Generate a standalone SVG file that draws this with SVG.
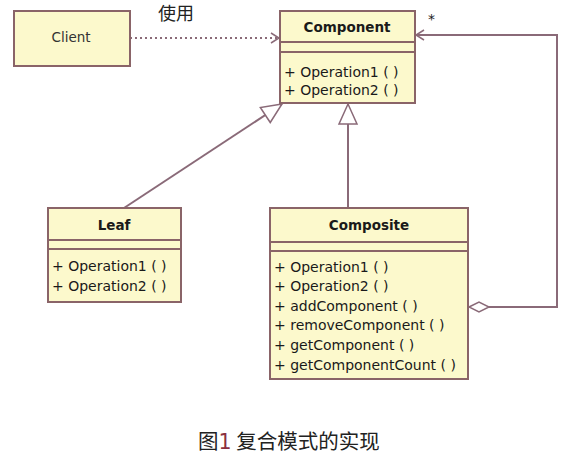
<svg xmlns="http://www.w3.org/2000/svg" width="575" height="464" viewBox="0 0 575 464">
<style>
.box{fill:#fcf9cc;stroke:#8a6468;stroke-width:2}
.sep{stroke:#8a6468;stroke-width:2}
.name{font-family:"DejaVu Sans",sans-serif;font-weight:bold;font-size:13.5px;fill:#1a1a1a;text-anchor:middle}
.op{font-family:"DejaVu Sans",sans-serif;font-size:14px;fill:#1a1a1a}
.plain{font-family:"DejaVu Sans",sans-serif;font-size:13.5px;fill:#333;text-anchor:middle}
.cjk{font-family:"Noto Sans CJK SC",sans-serif;fill:#222}
.ln{fill:none;stroke:#8a6a78;stroke-width:2}
</style>
<defs>
<marker id="open" markerWidth="12" markerHeight="12" refX="10" refY="6" orient="auto" markerUnits="userSpaceOnUse">
<path d="M2,1 L10,6 L2,11" fill="none" stroke="#8a6a78" stroke-width="1.5"/>
</marker>
<marker id="tri" markerWidth="24" markerHeight="24" refX="22" refY="12" orient="auto" markerUnits="userSpaceOnUse">
<path d="M22,12 L2,3 L2,21 Z" fill="#fff" stroke="#8a6a78" stroke-width="1.5"/>
</marker>
<marker id="dia" markerWidth="24" markerHeight="14" refX="1" refY="7" orient="auto" markerUnits="userSpaceOnUse">
<path d="M1,7 L11,2 L21,7 L11,12 Z" fill="#fff" stroke="#8a6a78" stroke-width="1.5"/>
</marker>
</defs>
<rect width="575" height="464" fill="#fff"/>
<g id="connectors">
<line x1="130" y1="38" x2="279" y2="38" class="ln" stroke-dasharray="2,3" marker-end="url(#open)"/>
<text x="158" y="20" class="cjk" font-size="18">使用</text>
<line x1="124" y1="208" x2="282" y2="104" class="ln" marker-end="url(#tri)"/>
<line x1="348" y1="208" x2="348" y2="104" class="ln" marker-end="url(#tri)"/>
<polyline points="469,307 557,307 557,35 416,35" class="ln" marker-start="url(#dia)" marker-end="url(#open)"/>
<text x="428" y="24" class="op" font-size="14">*</text>
</g>
<g id="client">
<rect x="14" y="11" width="116" height="55" class="box"/>
<text x="71" y="42" class="plain">Client</text>
</g>
<g id="component">
<rect x="280" y="11" width="135" height="92" class="box"/>
<line x1="280" y1="42" x2="415" y2="42" class="sep"/>
<line x1="280" y1="52" x2="415" y2="52" class="sep"/>
<text x="347" y="32" class="name">Component</text>
<text x="284" y="77" class="op">+ Operation1 ( )</text>
<text x="284" y="95" class="op">+ Operation2 ( )</text>
</g>
<g id="leaf">
<rect x="48" y="208" width="133" height="94" class="box"/>
<line x1="48" y1="240" x2="181" y2="240" class="sep"/>
<line x1="48" y1="249" x2="181" y2="249" class="sep"/>
<text x="114" y="230" class="name">Leaf</text>
<text x="52" y="271" class="op">+ Operation1 ( )</text>
<text x="52" y="291" class="op">+ Operation2 ( )</text>
</g>
<g id="composite">
<rect x="270" y="208" width="198" height="171" class="box"/>
<line x1="270" y1="242" x2="468" y2="242" class="sep"/>
<line x1="270" y1="251" x2="468" y2="251" class="sep"/>
<text x="369" y="230" class="name">Composite</text>
<text x="274" y="272" class="op">+ Operation1 ( )</text>
<text x="274" y="291" class="op">+ Operation2 ( )</text>
<text x="274" y="311" class="op">+ addComponent ( )</text>
<text x="274" y="330" class="op">+ removeComponent ( )</text>
<text x="274" y="350" class="op">+ getComponent ( )</text>
<text x="274" y="370" class="op">+ getComponentCount ( )</text>
</g>
<text x="198" y="449" class="cjk" font-size="20.5">图<tspan fill="#8b3040" font-family="'DejaVu Sans',sans-serif">1</tspan> 复合模式的实现</text>
</svg>
